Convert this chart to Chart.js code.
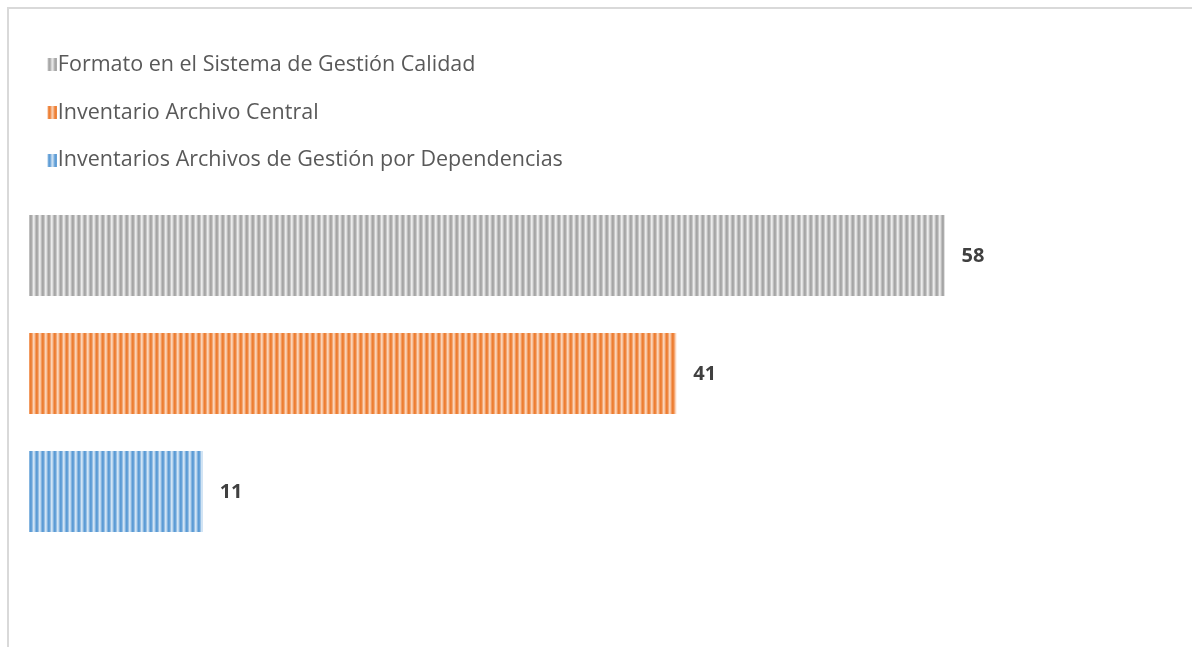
<!DOCTYPE html>
<html>
<head>
<meta charset="utf-8">
<script src="https://cdn.jsdelivr.net/npm/chart.js@4"></script>
<style>
  body { margin: 0; overflow: hidden; background: #fff; }
  .frame {
    position: absolute; left: 7px; top: 7px; width: 1400px; height: 900px;
    border-left: 2px solid #d9d9d9; border-top: 2px solid #d9d9d9;
  }
  .box { position: absolute; left: 0; top: 0; width: 1192px; height: 747px; }
</style>
</head>
<body>
<div class="frame"></div>
<div class="box"><canvas id="myChart"></canvas></div>
<script>
const seriesNames = [
  "Formato en el Sistema de Gestión Calidad",
  "Inventario Archivo Central",
  "Inventarios Archivos de Gestión por Dependencias",
];
const seriesValues = [58, 41, 11];

// stripe colours per series: dark, light
const stripeColors = [
  ["#a5a5a5", "#ebebeb"],
  ["#ed7d31", "#fad3b8"],
  ["#5b9bd5", "#d2e4f4"],
];

function mix(a, b, t) {
  const pa = [1, 3, 5].map((i) => parseInt(a.slice(i, i + 2), 16));
  const pb = [1, 3, 5].map((i) => parseInt(b.slice(i, i + 2), 16));
  const c = pa.map((v, i) => Math.round(v + (pb[i] - v) * t));
  return `rgb(${c[0]},${c[1]},${c[2]})`;
}

function makeStripes([dark, light]) {
  const tile = document.createElement("canvas");
  tile.width = 6;
  tile.height = 4;
  const tctx = tile.getContext("2d");
  const steps = [0, 0.1, 0.5, 1, 0.8, 0.35];
  steps.forEach((t, i) => {
    tctx.fillStyle = mix(dark, light, t);
    tctx.fillRect(i, 0, 1, 4);
  });
  return document.createElement("canvas").getContext("2d").createPattern(tile, "repeat");
}

// legend swatch: transparent left part so the stripes sit right next to the text
function makeLegendSwatch(pattern) {
  const c = document.createElement("canvas");
  c.width = 20;
  c.height = 13;
  const cctx = c.getContext("2d");
  cctx.fillStyle = pattern;
  cctx.fillRect(11, 0, 9, 13);
  return c;
}

const patterns = stripeColors.map(makeStripes);
const swatches = patterns.map(makeLegendSwatch);

const valueLabels = {
  id: "valueLabels",
  afterDatasetsDraw(chart) {
    const { ctx } = chart;
    ctx.save();
    ctx.font = "bold 20px 'Open Sans'";
    ctx.fillStyle = "#404040";
    ctx.textBaseline = "middle";
    chart.data.datasets.forEach((ds, i) => {
      const bar = chart.getDatasetMeta(i).data[0];
      ctx.fillText(ds.data[0], bar.x + 17, bar.y + 1);
    });
    ctx.restore();
  },
};

const data = {
  labels: [""],
  datasets: seriesNames.map((name, i) => ({
    label: name,
    data: [seriesValues[i]],
    backgroundColor: patterns[i],
    borderWidth: 0,
    categoryPercentage: 0.474,
    barPercentage: 0.686,
  })),
};

const config = {
  type: "bar",
  data: data,
  options: {
    indexAxis: "y",
    responsive: true,
    maintainAspectRatio: false,
    animation: false,
    layout: { padding: { left: 19.9, right: 58, top: 0, bottom: 0 } },
    scales: {
      x: { display: false, min: -0.577, max: 70 },
      y: { display: false },
    },
    plugins: {
      tooltip: { enabled: false },
      legend: {
        position: "chartArea",
        align: "start",
        title: { display: true, text: "", padding: { top: 27.9, bottom: 0 }, font: { size: 1, lineHeight: 0 } },
        labels: {
          usePointStyle: true,
          boxWidth: 1,
          padding: 26.2,
          color: "#595959",
          font: { family: "'Open Sans'", size: 21.5 },
          generateLabels(chart) {
            const items = Chart.defaults.plugins.legend.labels.generateLabels(chart);
            items.forEach((item, i) => (item.pointStyle = swatches[i]));
            return items;
          },
        },
      },
    },
  },
  plugins: [valueLabels],
};

const myChart = new Chart(document.getElementById("myChart"), config);
</script>
</body>
</html>
